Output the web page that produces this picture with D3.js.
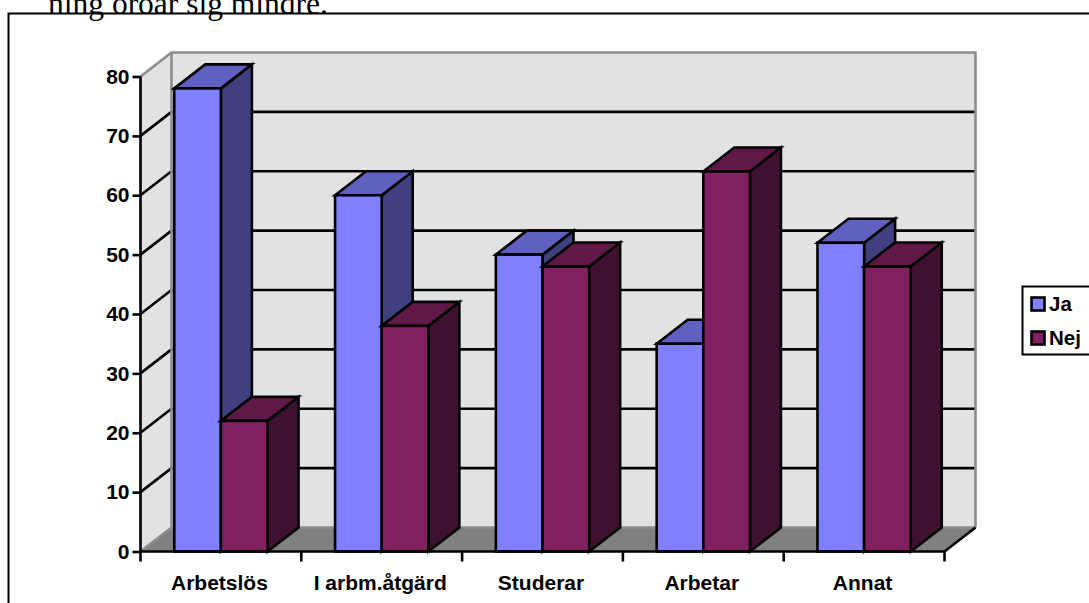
<!DOCTYPE html>
<html>
<head>
<meta charset="utf-8">
<script src="https://cdn.jsdelivr.net/npm/d3@7"></script>
<style>
html, body { margin: 0; padding: 0; background: #fff; overflow: hidden; }
svg { display: block; }
text { font-family: "Liberation Sans", Arial, sans-serif; font-weight: bold; fill: #000; }
.domain { display: none; }
</style>
</head>
<body>
<svg id="chart" width="1089" height="603"></svg>
<script>
const categories = ["Arbetslös", "I arbm.åtgärd", "Studerar", "Arbetar", "Annat"];
const seriesNames = ["Ja", "Nej"];
const jaValues = [78, 60, 50, 35, 52];
const nejValues = [22, 38, 48, 64, 48];
const yTicks = [0, 10, 20, 30, 40, 50, 60, 70, 80];

const frontColors = { Ja: "#8080ff", Nej: "#802060" };
const sideColors = { Ja: "#404080", Nej: "#401030" };
const topColors = { Ja: "#6060c0", Nej: "#601848" };

// depth of the 3d box, in pixels
const depthX = 31;
const depthY = -24;
const lineW = 2.6;

const svg = d3.select("#chart");

const y = d3.scaleLinear().domain([0, 80]).range([551.5, 76.5]);
const xBoundary = d3.scaleLinear().domain([0, categories.length]).range([140.5, 944.5]);
const x = d3.scaleBand().domain(categories).range([140.5, 944.5]).paddingInner(0.42).paddingOuter(0.21);
const xSeries = d3.scaleBand().domain(seriesNames).range([0, x.bandwidth()]);

const pts = (arr) => arr.map((p) => p.join(",")).join(" ");

// page text and the frame around the chart
svg.append("rect")
    .attr("x", 8.5).attr("y", 13.5)
    .attr("width", 1200).attr("height", 700)
    .attr("fill", "#fff").attr("stroke", "#000").attr("stroke-width", 2);
svg.append("text")
    .attr("x", 48).attr("y", 14)
    .style("font-family", '"Liberation Serif", "Times New Roman", serif')
    .style("font-weight", "normal")
    .style("font-size", "31.5px")
    .text("ning oroar sig mindre.");

// walls and floor
const x0 = xBoundary(0), x1 = xBoundary(categories.length);
const yBottom = y(0), yTop = y(80);

svg.append("polygon")
    .attr("points", pts([[x0, yBottom], [x0 + depthX, yBottom + depthY], [x0 + depthX, yTop + depthY], [x0, yTop]]))
    .attr("fill", "#e2e2e2");
svg.append("rect")
    .attr("x", x0 + depthX).attr("y", yTop + depthY)
    .attr("width", x1 - x0).attr("height", yBottom - yTop)
    .attr("fill", "#e2e2e2");

// grid lines on the side wall and the back wall
const grid = svg.append("g").attr("stroke", "#000").attr("stroke-width", lineW);
grid.selectAll(".side")
    .data(yTicks.filter((d) => d > 0 && d < 80))
    .join("line")
    .attr("x1", x0).attr("y1", (d) => y(d))
    .attr("x2", x0 + depthX).attr("y2", (d) => y(d) + depthY);
grid.selectAll(".back")
    .data(yTicks.filter((d) => d > 0 && d < 80))
    .join("line")
    .attr("class", "back")
    .attr("x1", x0 + depthX).attr("y1", (d) => y(d) + depthY)
    .attr("x2", x1 + depthX).attr("y2", (d) => y(d) + depthY);

svg.append("polygon")
    .attr("points", pts([[x0, yBottom], [x1, yBottom], [x1 + depthX, yBottom + depthY], [x0 + depthX, yBottom + depthY]]))
    .attr("fill", "#808080");

// wall outline
svg.append("path")
    .attr("d", `M${x0},${yTop}L${x0 + depthX},${yTop + depthY}L${x1 + depthX},${yTop + depthY}L${x1 + depthX},${yBottom + depthY}`
        + `M${x0 + depthX},${yTop + depthY}L${x0 + depthX},${yBottom + depthY}L${x1 + depthX},${yBottom + depthY}`
        + `M${x0},${yBottom}L${x0 + depthX},${yBottom + depthY}`)
    .attr("fill", "none").attr("stroke", "#8c8c8c").attr("stroke-width", lineW);

// bars, left to right so nearer faces overlap correctly
const rows = categories.flatMap((c, i) => [
    { cat: c, name: "Ja", value: jaValues[i] },
    { cat: c, name: "Nej", value: nejValues[i] }
]);
const bars = svg.append("g").selectAll("g").data(rows).join("g")
    .attr("stroke", "#000").attr("stroke-width", lineW).attr("stroke-linejoin", "miter");

const left = (d) => x(d.cat) + xSeries(d.name);
const right = (d) => left(d) + xSeries.bandwidth();

bars.append("polygon")
    .attr("fill", (d) => sideColors[d.name])
    .attr("points", (d) => pts([[right(d), yBottom], [right(d) + depthX, yBottom + depthY], [right(d) + depthX, y(d.value) + depthY], [right(d), y(d.value)]]));
bars.append("polygon")
    .attr("fill", (d) => topColors[d.name])
    .attr("points", (d) => pts([[left(d), y(d.value)], [left(d) + depthX, y(d.value) + depthY], [right(d) + depthX, y(d.value) + depthY], [right(d), y(d.value)]]));
bars.append("rect")
    .attr("fill", (d) => frontColors[d.name])
    .attr("x", left).attr("y", (d) => y(d.value))
    .attr("width", xSeries.bandwidth()).attr("height", (d) => yBottom - y(d.value));

// axes
const yAxis = svg.append("g")
    .attr("transform", `translate(${x0},0)`)
    .call(d3.axisLeft(y).tickValues(yTicks).tickSize(8).tickPadding(3));
yAxis.selectAll("line").attr("stroke", "#000").attr("stroke-width", lineW);
yAxis.selectAll("text").style("font-size", "21px").style("font-family", '"Liberation Sans", Arial, sans-serif').style("font-weight", "bold");

const xAxis = svg.append("g")
    .attr("transform", `translate(-1.5,${yBottom})`)
    .call(d3.axisBottom(x).tickSize(0).tickPadding(24));
xAxis.selectAll("line").remove();
xAxis.selectAll("text").style("font-size", "21px").style("font-family", '"Liberation Sans", Arial, sans-serif').style("font-weight", "bold");

svg.append("g").attr("stroke", "#000").attr("stroke-width", lineW)
    .selectAll("line").data(d3.range(categories.length + 1)).join("line")
    .attr("x1", (i) => xBoundary(i)).attr("x2", (i) => xBoundary(i))
    .attr("y1", yBottom).attr("y2", yBottom + 10);

svg.append("path")
    .attr("d", `M${x0},${yTop}L${x0},${yBottom}L${x1},${yBottom}L${x1 + depthX},${yBottom + depthY}`)
    .attr("fill", "none").attr("stroke", "#000").attr("stroke-width", lineW);

// legend
const legend = svg.append("g");
legend.append("rect")
    .attr("x", 1022.5).attr("y", 286.5).attr("width", 100).attr("height", 68)
    .attr("fill", "#fff").attr("stroke", "#000").attr("stroke-width", 2);
const legendY = d3.scalePoint().domain(seriesNames).range([304, 338]);
const items = legend.selectAll(".item").data(seriesNames).join("g");
items.append("rect")
    .attr("x", 1031.5).attr("y", (d) => legendY(d) - 6.5)
    .attr("width", 13).attr("height", 13)
    .attr("fill", (d) => frontColors[d])
    .attr("stroke", "#000").attr("stroke-width", lineW);
items.append("text")
    .attr("x", 1049).attr("y", (d) => legendY(d) + 7)
    .style("font-size", "20.5px")
    .text((d) => d);
</script>
</body>
</html>
